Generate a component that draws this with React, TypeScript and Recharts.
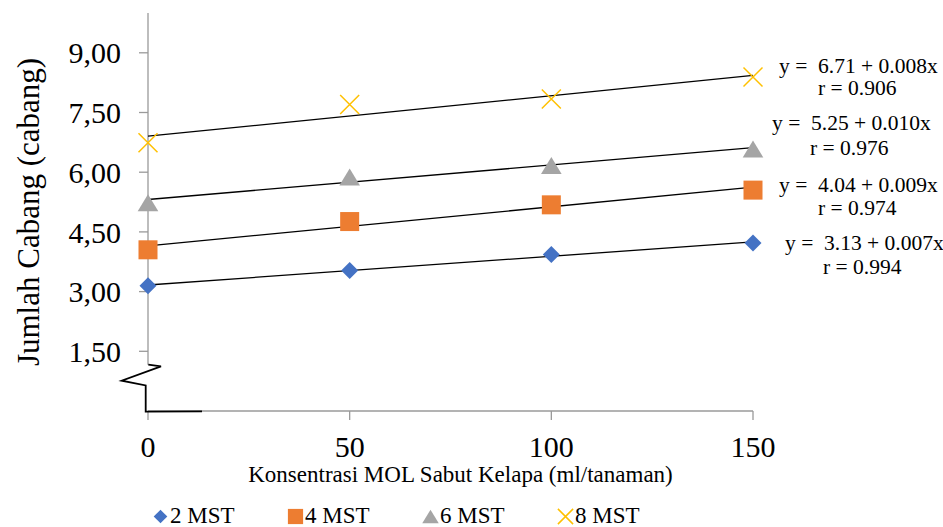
import React from 'react';
import { ComposedChart, Scatter, XAxis, YAxis, ReferenceLine, ReferenceDot, Legend } from 'recharts';

const doses = [0, 50, 100, 150];
const mst2 = [3.15, 3.53, 3.93, 4.22];
const mst4 = [4.05, 4.76, 5.18, 5.55];
const mst6 = [5.23, 5.88, 6.17, 6.58];
const mst8 = [6.74, 7.7, 7.84, 8.39];
const seriesNames = ['2 MST', '4 MST', '6 MST', '8 MST'];
const equations = ['y =  3.13 + 0.007x', 'y =  4.04 + 0.009x', 'y =  5.25 + 0.010x', 'y =  6.71 + 0.008x'];
const rValues = ['r = 0.994', 'r = 0.974', 'r = 0.976', 'r = 0.906'];
const yTicks = [1.5, 3, 4.5, 6, 7.5, 9];
const xTicks = [0, 50, 100, 150];
const yTitle = 'Jumlah Cabang (cabang)';
const xTitle = 'Konsentrasi MOL Sabut Kelapa (ml/tanaman)';

const SERIF = '"Liberation Serif", "Times New Roman", serif';
const COLORS = ['#4472C4', '#ED7D31', '#A5A5A5', '#FFC000'];
const AXIS = '#9a9a9a';
const LABEL_OFFSETS = [
  { eqDx: 32, eqDy: 1.2, rDx: 70, rDy: 25 },
  { eqDx: 26, eqDy: -2, rDx: 65, rDy: 20.5 },
  { eqDx: 19, eqDy: -24.5, rDx: 57, rDy: 0 },
  { eqDx: 26, eqDy: -10, rDx: 65, rDy: 12.5 },
];

const allSeries = [mst2, mst4, mst6, mst8];

function fit(xs: number[], ys: number[]) {
  const n = xs.length;
  const mx = xs.reduce((a, b) => a + b, 0) / n;
  const my = ys.reduce((a, b) => a + b, 0) / n;
  let sxy = 0;
  let sxx = 0;
  for (let i = 0; i < n; i++) {
    sxy += (xs[i] - mx) * (ys[i] - my);
    sxx += (xs[i] - mx) * (xs[i] - mx);
  }
  const b = sxy / sxx;
  return { a: my - b * mx, b };
}

function marker(i: number, cx: number, cy: number, big: boolean) {
  const s = big ? 1 : 0.8;
  const c = COLORS[i];
  if (i === 0) {
    const h = 8.5 * s;
    return <path d={`M${cx},${cy - h}L${cx + h},${cy}L${cx},${cy + h}L${cx - h},${cy}Z`} fill={c} />;
  }
  if (i === 1) {
    const h = 9.5 * s;
    return <rect x={cx - h} y={cy - h} width={2 * h} height={2 * h} fill={c} />;
  }
  if (i === 2) {
    const w = 10.3 * s;
    const h = 8.5 * s;
    return <path d={`M${cx},${cy - h}L${cx + w},${cy + h}L${cx - w},${cy + h}Z`} fill={c} />;
  }
  const h = 9.5 * s;
  return (
    <path
      d={`M${cx - h},${cy - h}L${cx + h},${cy + h}M${cx - h},${cy + h}L${cx + h},${cy - h}`}
      stroke={c}
      strokeWidth={1.5}
      fill="none"
    />
  );
}

const renderLegend = () => (
  <div style={{ display: 'flex', fontFamily: SERIF, fontSize: 23, color: '#000', lineHeight: '26px' }}>
    {seriesNames.map((n, i) => (
      <div key={n} style={{ width: 135, display: 'flex', alignItems: 'center' }}>
        <svg width={17} height={17} style={{ display: 'block' }}>
          {marker(i, 8.5, 8.5, false)}
        </svg>
        <span style={{ marginLeft: 1 }}>{n}</span>
      </div>
    ))}
  </div>
);

export default function App() {
  const fits = allSeries.map((ys) => fit(doses, ys));
  return (
    <div style={{ width: 943, height: 527 }}>
      <style>{'body{margin:0;overflow:hidden}'}</style>
      <ComposedChart width={943} height={527} margin={{ top: 13, right: 190, bottom: 0, left: 0 }}>
        <XAxis
          dataKey="x"
          type="number"
          domain={[0, 150]}
          ticks={xTicks}
          height={116}
          axisLine={{ stroke: AXIS, strokeWidth: 1.3 }}
          tickLine={{ stroke: AXIS, strokeWidth: 1.3 }}
          tickSize={9}
          tickMargin={16}
          tick={{ fontFamily: SERIF, fontSize: 30, fill: '#000' }}
          label={{
            content: (p: any) => {
              const vb = p.viewBox;
              return (
                <text x={vb.x + vb.width / 2 + 10} y={vb.y + 70.7} textAnchor="middle" fontFamily={SERIF} fontSize={23} fill="#000">
                  {xTitle}
                </text>
              );
            },
          }}
        />
        <YAxis
          dataKey="y"
          type="number"
          domain={[0, 10]}
          ticks={yTicks}
          width={148}
          axisLine={false}
          tickLine={{ stroke: AXIS, strokeWidth: 1.3 }}
          tickSize={9}
          tickMargin={18}
          tickFormatter={(v: number) => v.toFixed(2).replace('.', ',')}
          tick={{ fontFamily: SERIF, fontSize: 30, fill: '#000' }}
          label={{
            content: (p: any) => {
              const vb = p.viewBox;
              const cy = vb.y + vb.height / 2;
              const cx = vb.x + 28;
              return (
                <text x={cx} y={cy} transform={`rotate(-90 ${cx} ${cy})`} textAnchor="middle" dominantBaseline="central" fontFamily={SERIF} fontSize={31} fill="#000">
                  {yTitle}
                </text>
              );
            },
          }}
        />
        <ReferenceLine segment={[{ x: 0, y: 1.16 }, { x: 0, y: 10 }]} stroke={AXIS} strokeWidth={1.3} ifOverflow="visible" />
        {allSeries.map((ys, i) => (
          <Scatter
            key={seriesNames[i]}
            name={seriesNames[i]}
            data={doses.map((x, j) => ({ x, y: ys[j] }))}
            isAnimationActive={false}
            shape={(p: any) => marker(i, p.cx, p.cy, true)}
          />
        ))}
        {fits.map((f, i) => (
          <ReferenceLine
            key={'t' + i}
            segment={[{ x: 0, y: f.a }, { x: 150, y: f.a + 150 * f.b }]}
            stroke="#000"
            strokeWidth={1.3}
            ifOverflow="visible"
          />
        ))}
        {fits.map((f, i) => (
          <ReferenceDot
            key={'l' + i}
            x={150}
            y={f.a + 150 * f.b}
            r={0}
            ifOverflow="visible"
            shape={(p: any) => {
              const o = LABEL_OFFSETS[i];
              return (
                <g fontFamily={SERIF} fontSize={21.5} fill="#000">
                  <text x={p.cx + o.eqDx} y={p.cy + o.eqDy} dy="0.33em" style={{ whiteSpace: 'pre' }}>
                    {equations[i]}
                  </text>
                  <text x={p.cx + o.rDx} y={p.cy + o.rDy} dy="0.33em" style={{ whiteSpace: 'pre' }}>
                    {rValues[i]}
                  </text>
                </g>
              );
            }}
          />
        ))}
        <ReferenceDot
          x={0}
          y={0}
          r={0}
          ifOverflow="visible"
          shape={(p: any) => {
            const cx = p.cx;
            const cy = p.cy;
            return (
              <g>
                <path
                  d={`M${cx + 0.3},${cy - 46.3}L${cx + 13},${cy - 44.6}L${cx - 26.3},${cy - 30.3}L${cx - 2.3},${cy - 25.6}L${cx - 2.3},${cy + 0.7}L${cx + 54},${cy + 0.4}`}
                  stroke="#000"
                  strokeWidth={1.8}
                  fill="none"
                />
              </g>
            );
          }}
        />
        <Legend
          layout="horizontal"
          verticalAlign="middle"
          align="center"
          content={renderLegend}
          wrapperStyle={{ position: 'absolute', left: 152, top: 503, width: 580 }}
        />
      </ComposedChart>
    </div>
  );
}
